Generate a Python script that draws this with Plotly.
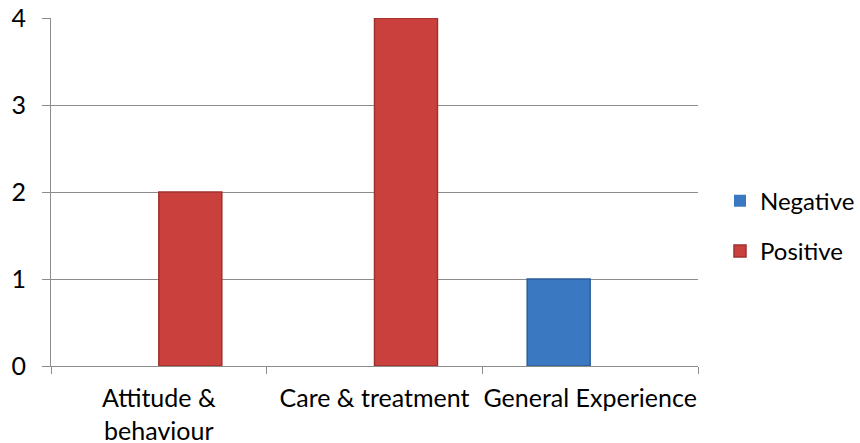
import plotly.graph_objects as go

categories = ["Attitude &<br>behaviour", "Care & treatment", "General Experience"]
negative = [0, 0, 1]
positive = [2, 4, 0]
y_ticks = [0, 1, 2, 3, 4]

FONT = "Lato"
FS = 25
GRID = "#8c8c8c"


def edge_widths(values):
    return [0 if v == 0 else 1.5 for v in values]


fig = go.Figure()
fig.add_trace(go.Bar(
    name="Negative", x=categories, y=negative, legendgroup="neg",
    marker=dict(color="#3b78c2", line=dict(color="#2c5d99", width=edge_widths(negative))),
))
fig.add_trace(go.Bar(
    name="Positive", x=categories, y=positive, legendgroup="pos",
    marker=dict(color="#c9403d", line=dict(color="#9e302e", width=edge_widths(positive))),
))

fig.update_layout(
    width=860, height=443,
    margin=dict(l=51, r=162, t=18, b=77, autoexpand=False),
    paper_bgcolor="white", plot_bgcolor="white",
    font=dict(family=FONT, size=FS, color="black"),
    barmode="group", bargap=0.416, bargroupgap=0,
    legend=dict(
        x=1.034, xanchor="left", y=0.402, yanchor="middle",
        font=dict(family=FONT, size=24, color="black"),
        tracegroupgap=16, bgcolor="rgba(0,0,0,0)",
    ),
    xaxis=dict(
        automargin=False, tickangle=0,
        showline=True, linecolor=GRID, linewidth=1,
        ticks="outside", tickson="boundaries", ticklen=7, tickcolor=GRID,
        showgrid=False, ticklabelstandoff=10,
    ),
    yaxis=dict(
        automargin=False,
        range=[0, 4], tickvals=y_ticks, ticktext=[str(v) for v in y_ticks],
        showline=True, linecolor=GRID, linewidth=1,
        showgrid=True, gridcolor=GRID, gridwidth=1,
        ticks="outside", ticklen=8, tickcolor=GRID,
        zeroline=False, ticklabelstandoff=11,
    ),
)

fig.write_html(
    "out.html",
    config={"displayModeBar": False},
    post_script="document.body.style.margin='0';document.body.style.overflow='hidden';",
)
